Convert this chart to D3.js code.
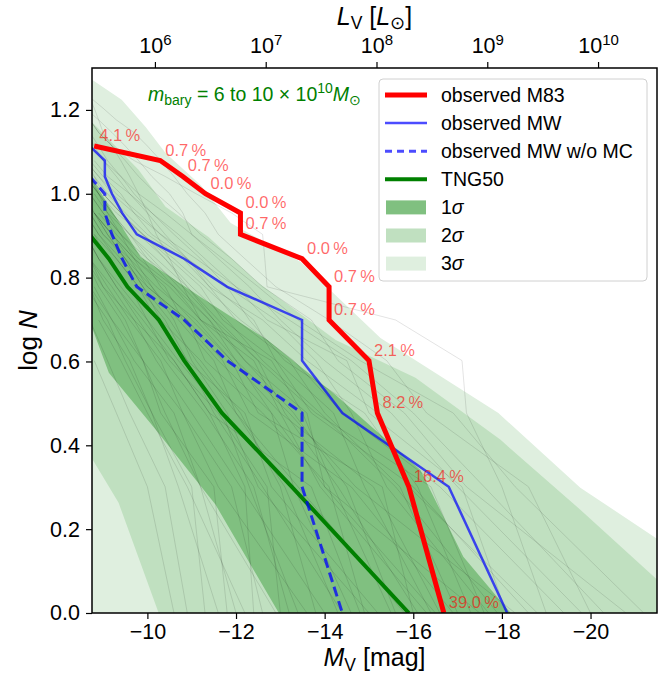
<!DOCTYPE html>
<html>
<head>
<meta charset="utf-8">
<script src="https://cdn.jsdelivr.net/npm/d3@7/dist/d3.min.js"></script>
<style>
body { margin: 0; background: #fff; }
svg { font-family: "Liberation Sans", Arial, sans-serif; }
</style>
</head>
<body>
<div id="chart"></div>
<script>
// observed cumulative luminosity functions, brightest satellite last (N = 13 ... 1)
const m83N = [13, 12, 11, 10, 9, 8, 7, 6, 5, 4, 3, 2, 1];
const m83Mag = [-8.8, -10.29, -10.8, -11.31, -12.1, -12.1, -13.49, -14.1, -14.1, -15.0, -15.19, -15.9, -16.69];
const m83Pct = ["4.1", "0.7", "0.7", "0.0", "0.0", "0.7", "0.0", "0.7", "0.7", "2.1", "8.2", "16.4", "39.0"];

const mwN = [13, 12, 11, 10, 9, 8, 7, 6, 5, 4, 3, 2, 1];
const mwMag = [-8.7, -9.04, -9.04, -9.2, -9.43, -9.76, -10.83, -11.8, -13.49, -13.49, -14.4, -16.8, -18.12];

const mwNoMcN = [11, 10, 9, 8, 7, 6, 5, 4, 3, 2, 1];
const mwNoMcMag = [-8.7, -9.04, -9.04, -9.2, -9.43, -9.76, -10.83, -11.8, -13.49, -13.49, -14.4];

const tngN = [8, 7, 6, 5, 4, 3, 2, 1];
const tngMag = [-8.69, -9.13, -9.55, -10.26, -10.83, -11.68, -13.26, -15.9];

// scatter bands, [M_V, log N] along each edge
const band3Upper = [[-8.5, 1.29], [-8.77, 1.271], [-9.42, 1.224], [-9.96, 1.159], [-10.41, 1.097], [-11.2, 1.021], [-11.88, 0.93], [-13.46, 0.837], [-15.26, 0.656], [-17.92, 0.477], [-19.77, 0.299], [-21.53, 0.175], [-22.48, 0.127]];
const band3Lower = [[-8.3, 0.6], [-8.6, -0.1], [-22.5, -0.1]];
const band2Upper = [[-8.5, 1.188], [-8.77, 1.169], [-9.8, 1.057], [-10.41, 0.969], [-11.38, 0.897], [-12.51, 0.787], [-14.25, 0.651], [-16.05, 0.561], [-17.97, 0.413], [-19.77, 0.246], [-21.51, 0.079], [-22.48, -0.004]];
const band2Lower = [[-8.5, 0.413], [-8.77, 0.365], [-9.35, 0.263], [-10.25, 0.001], [-10.53, -0.087]];
const band1Upper = [[-8.5, 1.057], [-8.77, 1.033], [-9.85, 0.849], [-11.2, 0.754], [-12.71, 0.651], [-14.25, 0.52], [-16.16, 0.341], [-17.13, 0.134], [-18.19, 0.001], [-18.87, -0.087]];
const band1Lower = [[-8.5, 0.699], [-8.77, 0.675], [-9.13, 0.573], [-10.19, 0.437], [-11.54, 0.258], [-12.96, 0.001], [-13.46, -0.087]];

// individual TNG50 hosts: M_V of 1st, 2nd, 3rd ... brightest satellite
const tngGalaxies = [
    [-15.8, -13.4, -12.0, -11.1, -10.5, -9.9, -9.5, -9.1, -8.8, -8.6],
    [-13.2, -12.4, -11.3, -10.4, -9.8, -9.3, -8.9, -8.6],
    [-17.9, -15.6, -13.9, -12.6, -11.8, -11.0, -10.4, -9.9, -9.4, -9.0, -8.7],
    [-16.9, -14.6, -12.3, -11.7, -10.9, -10.0, -9.6, -9.2, -8.8],
    [-12.6, -11.9, -10.8, -9.9, -9.4, -8.9, -8.6],
    [-19.4, -16.6, -14.4, -13.3, -12.1, -11.3, -10.6, -9.9, -9.4, -9.0, -8.7],
    [-14.8, -13.7, -11.4, -10.6, -9.7, -9.2, -8.7],
    [-10.6, -10.0, -9.3, -8.8],
    [-11.3, -11.0, -10.1, -9.6, -9.0, -8.7],
    [-20.3, -17.6, -16.0, -14.6, -13.2, -12.0, -11.1, -10.3, -9.7, -9.2, -8.9, -8.6],
    [-17.6, -16.4, -13.8, -12.5, -11.6, -10.9, -10.2, -9.6, -9.2, -8.9, -8.6],
    [-13.6, -11.6, -10.8, -10.3, -9.6, -9.1, -8.7],
    [-16.6, -15.1, -13.0, -12.4, -11.2, -10.6, -9.8, -9.3, -8.9],
    [-21.2, -18.3, -16.9, -14.8, -13.4, -12.5, -11.7, -11.0, -10.4, -9.8, -9.4, -9.0, -8.7, -8.5],
    [-19.0, -18.0, -17.2, -17.1, -15.6, -12.7, -12.65, -12.6, -11.9, -11.1, -10.4, -9.7, -9.2, -8.9, -8.7],
    [-15.2, -12.8, -12.2, -10.9, -10.2, -9.8, -9.3, -8.9, -8.6],
    [-14.3, -13.1, -12.0, -11.5, -10.7, -10.1, -9.5, -9.1, -8.8],
    [-18.8, -15.9, -15.2, -13.6, -12.6, -11.4, -10.8, -10.0, -9.5, -9.1, -8.8, -8.6],
    [-12.2, -10.9, -10.0, -9.4, -8.9],
    [-16.3, -13.9, -13.0, -11.9, -11.0, -10.3, -9.9, -9.4, -9.0, -8.7],
    [-17.3, -16.1, -14.9, -13.1, -12.3, -11.8, -10.9, -10.3, -9.8, -9.3, -8.9, -8.6],
    [-11.8, -11.5, -10.3, -9.9, -9.2, -8.8],
    [-15.5, -14.2, -13.5, -12.8, -11.2, -10.5, -9.7, -9.2, -8.8],
    [-18.3, -14.7, -13.2, -12.0, -11.4, -10.7, -10.1, -9.6, -9.1, -8.8],
    [-14.0, -12.1, -11.0, -10.2, -9.7, -9.0, -8.6],
    [-20.0, -18.6, -16.3, -15.4, -14.1, -12.9, -12.2, -11.6, -11.3, -10.9, -10.6, -10.3, -10.0, -9.7, -9.3, -9.0, -8.7],
    [-13.0, -12.7, -11.6, -10.5, -10.0, -9.4, -8.9, -8.6],
    [-16.0, -15.3, -12.5, -11.9, -11.1, -10.2, -9.6, -9.0, -8.7],
    [-10.9, -10.4, -9.6, -9.1, -8.7],
    [-17.5, -14.0, -13.6, -12.2, -11.5, -10.8, -10.0, -9.4, -9.0, -8.7],
    [-19.8, -17.0, -15.5, -14.0, -13.0, -12.3, -11.6, -11.0, -10.8, -10.5, -10.1, -9.8, -9.5, -9.2, -8.9, -8.6],
    [-14.6, -13.3, -12.8, -11.6, -10.8, -10.4, -9.7, -9.2, -8.8, -8.5],
    [-12.0, -11.2, -10.6, -9.7, -9.2, -8.7],
    [-16.4, -14.9, -14.2, -12.9, -11.7, -11.2, -10.5, -9.9, -9.3, -8.9, -8.6],
    [-18.1, -17.1, -15.0, -14.5, -12.7, -12.0, -11.3, -10.7, -10.1, -9.6, -9.1, -8.8],
    [-15.0, -12.5, -11.8, -11.0, -10.6, -10.1, -9.7, -9.4, -9.1, -8.9, -8.7],
    [-13.8, -13.0, -12.1, -11.2, -10.3, -9.9, -9.5, -9.0, -8.7],
    [-17.0, -15.7, -14.0, -13.2, -12.0, -11.4, -10.9, -10.4, -10.0, -9.6, -9.3, -9.0, -8.8, -8.6],
    [-12.9, -11.2, -10.4, -9.9, -9.5, -9.0, -8.7],
    [-16.5, -14.0, -12.8, -12.0, -11.2, -10.8, -10.5, -10.2, -10.0, -9.8, -9.6, -9.4, -9.2, -9.0, -8.9, -8.8, -8.7],
    [-14.9, -14.1, -12.6, -11.3, -10.9, -10.0, -9.4, -8.9, -8.6],
    [-18.6, -16.0, -13.7, -12.9, -12.4, -11.5, -10.9, -10.1, -9.7, -9.4, -9.0, -8.7],
    [-11.6, -10.7, -10.1, -9.5, -9.1, -8.6],
    [-15.6, -14.5, -13.3, -12.2, -11.4, -10.6, -10.0, -9.6, -9.2, -8.9, -8.6],
    [-13.4, -12.3, -11.7, -10.7, -10.0, -9.6, -9.1, -8.8],
    [-17.7, -15.4, -14.6, -13.8, -12.9, -11.8, -11.2, -10.6, -10.1, -9.7, -9.4, -9.1, -8.9, -8.7, -8.5],
    [-14.4, -12.6, -11.5, -10.9, -10.4, -9.8, -9.3, -8.8],
    [-20.8, -17.2, -15.8, -14.3, -13.7, -12.6, -11.9, -11.2, -10.7, -10.2, -9.8, -9.5, -9.2, -8.9, -8.7],
    [-12.4, -12.2, -11.4, -10.6, -9.9, -9.3, -8.9, -8.6],
    [-16.1, -14.3, -13.1, -12.5, -11.5, -10.9, -10.4, -9.8, -9.4, -9.0, -8.8]
];

const xTicks = [-10, -12, -14, -16, -18, -20];
const yTicks = [0.0, 0.2, 0.4, 0.6, 0.8, 1.0, 1.2];
const lumTicks = [6, 7, 8, 9, 10];

document.addEventListener("DOMContentLoaded", function() {
    createChart();
});

function createChart() {
    const width = 670;
    const height = 678;
    const margin = { top: 68, right: 13, bottom: 65, left: 92 };

    const svg = d3.select('#chart')
        .append('svg')
        .attr('width', width)
        .attr('height', height);

    const xScale = d3.scaleLinear().domain([-8.75, -21.5]).range([margin.left, width - margin.right]);
    const yScale = d3.scaleLinear().domain([0, 1.3]).range([height - margin.bottom, margin.top]);

    // M_V -> L_V for the top axis
    const toLum = m => Math.pow(10, (4.83 - m) / 2.5);
    const lumScale = d3.scaleLog()
        .domain([toLum(-8.75), toLum(-21.5)])
        .range([margin.left, width - margin.right]);

    svg.append('clipPath').attr('id', 'plot-clip')
        .append('rect')
        .attr('x', margin.left).attr('y', margin.top)
        .attr('width', width - margin.left - margin.right)
        .attr('height', height - margin.top - margin.bottom);

    const plot = svg.append('g').attr('clip-path', 'url(#plot-clip)');

    const line = d3.line().x(d => xScale(d[0])).y(d => yScale(d[1]));
    const band = (upper, lower) => line(upper.concat(lower.slice().reverse())) + 'Z';

    plot.append('path').attr('d', band(band3Upper, band3Lower)).attr('fill', '#dfefdf');
    plot.append('path').attr('d', band(band2Upper, band2Lower)).attr('fill', '#c0e0c0');
    plot.append('path').attr('d', band(band1Upper, band1Lower)).attr('fill', '#80c080');

    plot.append('g')
        .selectAll('path')
        .data(tngGalaxies)
        .join('path')
        .attr('d', mags => line(mags.map((m, i) => [m, Math.log10(i + 1)])))
        .attr('fill', 'none')
        .attr('stroke', 'rgba(0,0,0,0.14)')
        .attr('stroke-width', 0.8);

    const toPts = (mags, ns) => mags.map((m, i) => [m, Math.log10(ns[i])]);

    plot.append('path').attr('d', line(toPts(tngMag, tngN)))
        .attr('fill', 'none').attr('stroke', 'green').attr('stroke-width', 4);
    plot.append('path').attr('d', line(toPts(mwNoMcMag, mwNoMcN)))
        .attr('fill', 'none').attr('stroke', 'rgba(0,0,255,0.75)').attr('stroke-width', 3)
        .attr('stroke-dasharray', '10,5');
    plot.append('path').attr('d', line(toPts(mwMag, mwN)))
        .attr('fill', 'none').attr('stroke', 'rgba(0,0,255,0.7)').attr('stroke-width', 2.5);

    const m83Pts = toPts(m83Mag, m83N);
    plot.append('path').attr('d', line(m83Pts))
        .attr('fill', 'none').attr('stroke', 'red').attr('stroke-width', 5)
        .attr('stroke-linejoin', 'miter');

    svg.append('g')
        .selectAll('text')
        .data(m83Pts)
        .join('text')
        .attr('x', d => xScale(d[0]) + 5)
        .attr('y', d => yScale(d[1]) - 5)
        .attr('fill', 'rgba(255,0,0,0.6)')
        .attr('font-size', 16.5)
        .text((d, i) => m83Pct[i] + '\u2009%');

    // annotation
    const note = svg.append('text')
        .attr('x', 148).attr('y', 101)
        .attr('fill', 'green')
        .attr('font-size', 19.5);
    note.append('tspan').attr('font-style', 'italic').text('m');
    note.append('tspan').attr('font-size', 14).attr('dy', 4).text('bary');
    note.append('tspan').attr('dy', -4).text(' = 6 to 10 \u00d7 10');
    note.append('tspan').attr('font-size', 14).attr('dy', -8).text('10');
    note.append('tspan').attr('dy', 8).attr('font-style', 'italic').text('M');
    note.append('tspan').attr('font-size', 14).attr('dy', 4).text('\u2299');

    // axes
    const xAxis = svg.append('g')
        .attr('transform', `translate(0,${height - margin.bottom})`)
        .call(d3.axisBottom(xScale).tickValues(xTicks).tickSize(6).tickPadding(5)
            .tickFormat(d => '\u2212' + Math.abs(d)));
    const yAxis = svg.append('g')
        .attr('transform', `translate(${margin.left},0)`)
        .call(d3.axisLeft(yScale).tickValues(yTicks).tickSize(6).tickPadding(6)
            .tickFormat(d3.format('.1f')));
    const topAxis = svg.append('g')
        .attr('transform', `translate(0,${margin.top})`)
        .call(d3.axisTop(lumScale).tickValues(lumTicks.map(p => Math.pow(10, p))).tickSize(6)
            .tickFormat(''));

    [xAxis, yAxis, topAxis].forEach(ax => {
        ax.select('.domain').remove();
        ax.selectAll('.tick line').attr('stroke', '#000').attr('stroke-width', 1.2);
        ax.selectAll('text').attr('font-size', 21.5).attr('fill', '#000')
            .attr('font-family', '"Liberation Sans", Arial, sans-serif');
    });
    topAxis.selectAll('.tick text').remove();

    topAxis.selectAll('.tick').each(function(d) {
        const t = d3.select(this).append('text')
            .attr('y', -15)
            .attr('text-anchor', 'middle')
            .attr('fill', '#000')
            .attr('font-size', 21.5);
        t.append('tspan').text('10');
        t.append('tspan').attr('font-size', 15).attr('dy', -8).text(Math.round(Math.log10(d)));
    });

    svg.append('rect')
        .attr('x', margin.left).attr('y', margin.top)
        .attr('width', width - margin.left - margin.right)
        .attr('height', height - margin.top - margin.bottom)
        .attr('fill', 'none').attr('stroke', '#000').attr('stroke-width', 1.5);

    // axis titles
    const xTitle = svg.append('text')
        .attr('x', (margin.left + width - margin.right) / 2).attr('y', 666)
        .attr('text-anchor', 'middle').attr('font-size', 25);
    xTitle.append('tspan').attr('font-style', 'italic').text('M');
    xTitle.append('tspan').attr('font-size', 17.5).attr('dy', 5).text('V');
    xTitle.append('tspan').attr('dy', -5).text(' [mag]');

    const topTitle = svg.append('text')
        .attr('x', (margin.left + width - margin.right) / 2).attr('y', 25)
        .attr('text-anchor', 'middle').attr('font-size', 25);
    topTitle.append('tspan').attr('font-style', 'italic').text('L');
    topTitle.append('tspan').attr('font-size', 17.5).attr('dy', 4).text('V');
    topTitle.append('tspan').attr('dy', -4).text(' [');
    topTitle.append('tspan').attr('font-style', 'italic').text('L');
    topTitle.append('tspan').attr('font-size', 17.5).attr('dy', 4).text('\u2299');
    topTitle.append('tspan').attr('dy', -4).text(']');

    const yTitle = svg.append('text')
        .attr('transform', `translate(37,${(margin.top + height - margin.bottom) / 2}) rotate(-90)`)
        .attr('text-anchor', 'middle').attr('font-size', 26);
    yTitle.append('tspan').text('log ');
    yTitle.append('tspan').attr('font-style', 'italic').text('N');

    createLegend(svg);
}

function createLegend(svg) {
    const entries = [
        { label: 'observed M83', type: 'line', color: 'red', width: 5 },
        { label: 'observed MW', type: 'line', color: 'rgba(0,0,255,0.7)', width: 2.5 },
        { label: 'observed MW w/o MC', type: 'line', color: 'rgba(0,0,255,0.7)', width: 3, dash: '7,5' },
        { label: 'TNG50', type: 'line', color: 'green', width: 4 },
        { label: '1', sigma: true, type: 'patch', color: '#80c080' },
        { label: '2', sigma: true, type: 'patch', color: '#c0e0c0' },
        { label: '3', sigma: true, type: 'patch', color: '#dfefdf' }
    ];

    const legend = svg.append('g');
    legend.append('rect')
        .attr('x', 379).attr('y', 79).attr('width', 268).attr('height', 202)
        .attr('rx', 4)
        .attr('fill', 'rgba(255,255,255,0.8)')
        .attr('stroke', '#d0d0d0').attr('stroke-width', 1);

    entries.forEach((e, i) => {
        const cy = 95 + i * 28.1;
        if (e.type === 'line') {
            legend.append('line')
                .attr('x1', 385).attr('x2', 427).attr('y1', cy).attr('y2', cy)
                .attr('stroke', e.color).attr('stroke-width', e.width)
                .attr('stroke-dasharray', e.dash || null);
        } else {
            legend.append('rect')
                .attr('x', 386).attr('y', cy - 7).attr('width', 40).attr('height', 14)
                .attr('fill', e.color);
        }
        const t = legend.append('text')
            .attr('x', 441).attr('y', cy)
            .attr('dy', '0.35em')
            .attr('font-size', 19.5);
        t.append('tspan').text(e.label);
        if (e.sigma) t.append('tspan').attr('font-style', 'italic').text('\u03c3');
    });
}
</script>
</body>
</html>
